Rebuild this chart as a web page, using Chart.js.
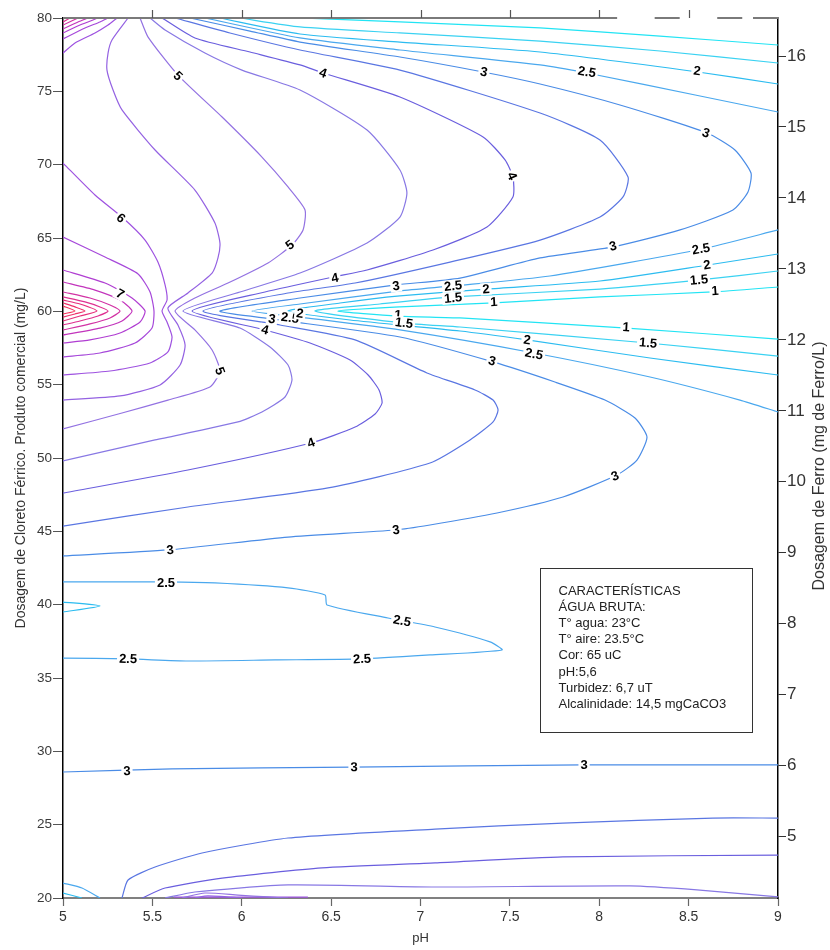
<!DOCTYPE html>
<html><head><meta charset="utf-8">
<script src="https://cdn.jsdelivr.net/npm/chart.js@4.4.1/dist/chart.umd.min.js"></script>
<style>html,body{margin:0;padding:0;background:#fff;}#wrap{width:830px;height:950px;}</style>
</head><body><div id="wrap"><canvas id="c" width="830" height="950"></canvas></div>
<script>
// ---- tick values ----
const phTicks = [5, 5.5, 6, 6.5, 7, 7.5, 8, 8.5, 9];
const doseTicks = [20, 25, 30, 35, 40, 45, 50, 55, 60, 65, 70, 75, 80];
const feTicks = [5, 6, 7, 8, 9, 10, 11, 12, 13, 14, 15, 16];
const FE_PER_PRODUCT = 0.2067; // mg Fe per mg of commercial product

// ---- contour lines: [pH, dose mg/L] ----
const c1_top = [[6.326,80],[6.885,79.73],[7.669,79.32],[8.34,78.77],[9,78.16]];
const c1_trough = [[9,61.66],[8.636,61.32],[8.004,60.98],[7.411,60.57],[6.885,60.30],[6.538,60.02],[6.874,59.68],[7.221,59.55],[8.155,58.86],[9,58.11]];
const c15_top = [[5.99,80],[6.326,79.39],[6.885,78.98],[7.669,78.43],[8.34,77.75],[9,76.93]];
const c15_trough = [[9,62.75],[8.564,62.14],[8.004,61.52],[7.182,60.98],[6.773,60.50],[6.41,60.02],[6.908,59.20],[7.221,58.93],[8.273,57.84],[9,56.95]];
const c2_top = [[5.878,80],[6.326,78.91],[6.885,78.36],[7.669,77.68],[8.552,76.32],[9,75.5]];
const c2_trough = [[9,63.91],[8.608,63.16],[8.004,62.07],[7.372,61.52],[6.885,61.05],[6.55,60.57],[6.259,60.02],[6.606,59.41],[7.221,58.66],[7.596,58.05],[8.284,56.82],[9,55.66]];
const c2_wedge = [[5,40.18],[5.207,39.91],[5,39.50]];
const c2_corner = [[5,20.34],[5.106,20]];
const c25_top = [[5.794,80],[6.326,78.64],[6.885,77.82],[7.669,76.8],[7.931,76.25],[8.564,74.68],[9,73.59]];
const c25_trough = [[9,65.55],[8.575,64.25],[7.724,62.41],[7.182,61.73],[6.885,61.39],[6.326,60.50],[6.057,60.02],[6.326,59.61],[6.885,58.73],[7.635,57.16],[8.284,55.52],[8.787,53.95],[9,53.14]];
const c25_loop = [[5,41.55],[5.582,41.55],[5.85,41.48],[6.259,41.14],[6.466,40.66],[6.477,39.98],[6.818,39.09],[7.081,38.48],[7.389,37.46],[7.456,36.91],[7.053,36.57],[6.673,36.30],[6.186,36.23],[5.699,36.16],[5.364,36.30],[5,36.36]];
const c25_corner = [[5,21.02],[5.106,20.68],[5.207,20]];
const c3_main = [[5.711,80],[6.046,79.11],[6.326,78.36],[6.885,77.34],[7.35,76.32],[7.669,75.5],[8.116,74.07],[8.603,72.16],[8.759,71.0],[8.849,69.43],[8.832,68.14],[8.748,66.91],[8.452,65.55],[8.077,64.39],[7.669,63.64],[7.221,62.27],[6.863,61.80],[6.326,60.91],[5.878,60.02],[6.169,59.48],[6.885,58.25],[7.406,56.55],[7.752,55.18],[8.032,53.95],[8.2,52.73],[8.267,51.43],[8.211,49.86],[8.099,48.84],[7.797,47.34],[7.428,46.25],[7.053,45.43],[6.857,45.09],[6.259,44.61],[5.587,43.73],[5,43.32]];
const c3_low = [[5,28.59],[5.61,28.80],[6.617,28.93],[7.909,29.07],[9,29.07]];
const c35_main = [[5.627,80],[5.934,78.98],[6.326,77.82],[6.885,76.45],[7.669,73.52],[8.004,71.68],[8.161,69.16],[8.133,67.80],[8.004,66.43],[7.669,64.86],[7.165,63.36],[6.634,61.93],[6.259,61.25],[5.783,60.02],[6.214,59.07],[6.634,58.05],[7.036,55.80],[7.305,54.64],[7.406,53.95],[7.434,53.27],[7.406,52.46],[7.277,51.23],[7.053,49.66],[6.483,47.96],[5.699,46.66],[5,45.36]];
const c35_low = [[5.33,20],[5.364,21.23],[5.515,22.11],[5.778,23.07],[6.259,24.09],[7.081,24.70],[7.797,25.11],[8.636,25.45],[9,25.45]];
const c4_main = [[5.554,80],[5.738,78.64],[6.046,77.68],[6.326,76.80],[6.455,76.25],[6.885,74.61],[7.35,71.89],[7.473,70.32],[7.517,69.16],[7.517,67.80],[7.372,65.75],[7.07,64.18],[6.701,62.82],[6.51,62.34],[6.13,61.32],[5.722,60.02],[6.13,58.73],[6.382,57.84],[6.606,56.68],[6.707,55.66],[6.768,54.64],[6.785,53.75],[6.746,53.00],[6.634,52.11],[6.387,51.02],[5.699,49.18],[5,47.61]];
const c4_low = [[5.442,20],[5.571,20.68],[5.89,21.36],[6.449,22.05],[7.081,22.39],[7.797,22.80],[9,22.93]];
const c45_main = [[5.487,80],[5.571,79.18],[5.794,77.61],[6.001,76.45],[6.326,75.09],[6.701,72.36],[6.885,69.64],[6.924,68.07],[6.885,66.43],[6.701,64.66],[6.326,62.61],[5.99,61.32],[5.671,60.02],[5.99,58.86],[6.158,57.57],[6.259,56.34],[6.281,55.32],[6.242,54.16],[6.113,53.14],[5.979,52.46],[5.515,51.23],[5,49.80]];
const c45_low = [[5.571,20],[5.738,20.41],[6.259,20.89],[7.081,20.75],[8.172,20.82],[8.547,20.55],[9,20.07]];
const c5_main = [[5.431,80],[5.476,78.70],[5.643,76.11],[5.89,73.25],[6.113,70.52],[6.259,68.48],[6.354,66.91],[6.343,65.55],[6.281,64.52],[6.147,63.30],[5.923,61.93],[5.738,60.91],[5.627,60.02],[5.738,58.73],[5.834,57.36],[5.878,55.93],[5.822,54.84],[5.587,53.95],[5.33,53.07],[5,51.98]];
const c5_low = [[5.666,20],[5.794,20.34],[5.979,20.20],[6.147,20.07],[6.259,20]];
const c55_main = [[5.364,80],[5.274,78.50],[5.252,77.61],[5.246,76.45],[5.28,75.09],[5.33,73.73],[5.515,71.0],[5.738,68.27],[5.85,66.02],[5.878,64.66],[5.867,63.64],[5.834,62.61],[5.699,61.25],[5.587,60.23],[5.643,59.07],[5.683,57.70],[5.655,56.34],[5.543,54.98],[5.319,54.23],[5,53.95]];
const c55_low = [[5.738,20],[5.811,20.14],[6.001,20]];
const c6_main = [[5,70.11],[5.179,67.93],[5.336,66.36],[5.459,64.86],[5.531,63.36],[5.571,61.80],[5.582,60.77],[5.554,60.02],[5.582,59.27],[5.61,58.25],[5.587,57.23],[5.487,56.48],[5.263,55.93],[5,55.66]];
const c6_corner = [[5,77.61],[5.067,78.30],[5.179,78.98],[5.252,79.52],[5.302,80]];
const c6_low = [[5.62,20.06],[6.37,20.06]];
const c65_peak = [[5,65.07],[5.235,63.70],[5.42,62.55],[5.487,61.32],[5.509,60.02],[5.498,58.86],[5.403,57.84],[5.207,57.16],[5,56.89]];
const c65_corner = [[5,78.57],[5.123,79.32],[5.207,79.73],[5.252,80]];
const c7_peak = [[5,62.82],[5.235,61.93],[5.386,60.91],[5.459,60.02],[5.431,59.27],[5.319,58.52],[5.151,58.05],[5,57.84]];
const c7_corner = [[5,78.98],[5.095,79.52],[5.196,80]];
const c75_peak = [[5,62.0],[5.179,61.45],[5.319,60.77],[5.386,60.02],[5.33,59.34],[5.207,58.86],[5,58.39]];
const c75_corner = [[5,79.25],[5.084,79.73],[5.14,80]];
const c8_peak = [[5,61.32],[5.151,60.91],[5.263,60.43],[5.319,60.02],[5.263,59.55],[5.151,59.14],[5,58.73]];
const c8_corner = [[5,79.52],[5.084,80]];
const c85_peak = [[5,60.98],[5.123,60.64],[5.207,60.30],[5.252,60.02],[5.196,59.68],[5.095,59.34],[5,59.07]];
const c85_corner = [[5,79.73],[5.039,80]];
const c9_peak = [[5,60.77],[5.095,60.50],[5.19,60.02],[5.095,59.68],[5,59.34]];
const c95_peak = [[5,60.57],[5.067,60.30],[5.123,60.02],[5.067,59.82],[5,59.61]];
const c10_peak = [[5,60.36],[5.067,60.02],[5,59.82]];

// level of each line
const contours = [
  [1, c1_top], [1, c1_trough],
  [1.5, c15_top], [1.5, c15_trough],
  [2, c2_top], [2, c2_trough], [2, c2_wedge], [2, c2_corner],
  [2.5, c25_top], [2.5, c25_trough], [2.5, c25_loop], [2.5, c25_corner],
  [3, c3_main], [3, c3_low],
  [3.5, c35_main], [3.5, c35_low],
  [4, c4_main], [4, c4_low],
  [4.5, c45_main], [4.5, c45_low],
  [5, c5_main], [5, c5_low],
  [5.5, c55_main], [5.5, c55_low],
  [6, c6_main], [6, c6_corner], [6, c6_low],
  [6.5, c65_peak], [6.5, c65_corner],
  [7, c7_peak], [7, c7_corner],
  [7.5, c75_peak], [7.5, c75_corner],
  [8, c8_peak], [8, c8_corner],
  [8.5, c85_peak], [8.5, c85_corner],
  [9, c9_peak], [9.5, c95_peak], [10, c10_peak]
];

// contour labels: [text, pH, dose]
const contourLabels = [
  ['3',7.355,76.32],['2.5',7.931,76.32],['2',8.547,76.39],['3',8.597,72.16],['4',7.512,69.23],
  ['4',6.455,76.25],['5',5.643,76.05],['6',5.324,66.36],['5',6.27,64.52],['4',6.522,62.27],
  ['3',8.077,64.45],['2.5',8.569,64.25],['2',8.603,63.16],['1.5',8.558,62.14],['1',8.648,61.39],
  ['3',6.863,61.73],['2.5',7.182,61.73],['2',7.366,61.52],['1.5',7.182,60.91],['1',7.411,60.64],
  ['1',6.874,59.75],['1.5',6.908,59.20],['1',8.15,58.93],['1.5',8.273,57.84],['2',7.596,58.05],
  ['2.5',7.635,57.09],['3',7.4,56.61],['3',6.169,59.48],['2.5',6.27,59.55],['2',6.326,59.85],
  ['4',6.13,58.73],['5',5.878,55.93],['4',6.387,51.02],['3',8.088,48.77],['3',6.863,45.09],
  ['3',5.599,43.73],['2.5',5.576,41.48],['2.5',6.897,38.89],['2.5',5.364,36.30],['2.5',6.673,36.30],
  ['3',5.358,28.66],['3',6.628,28.93],['3',7.915,29.07],['7',5.319,61.18]
];

const boxLines = ['CARACTERÍSTICAS','ÁGUA BRUTA:','T° agua: 23°C','T° aire: 23.5°C','Cor: 65 uC','pH:5,6','Turbidez: 6,7 uT','Alcalinidade: 14,5 mgCaCO3'];
const rightTitle = 'Dosagem de Ferro (mg de Ferro/L)';

// ---- styles ----
const levelColors = {
  '1':'#22e4f4','1.5':'#3ad2f2','2':'#2cbcf0','2.5':'#4aa8ee','3':'#4a8ce6','3.5':'#5a76e2',
  '4':'#6a5ede','4.5':'#8878e4','5':'#9372e2','5.5':'#9462e2','6':'#9e52e0','6.5':'#a648da',
  '7':'#b03ed2','7.5':'#c234bc','8':'#d232a4','8.5':'#de3090','9':'#e6307c','9.5':'#ee306a','10':'#f4305a'
};
const FONT = "'Liberation Sans', Arial, sans-serif";
Chart.defaults.font.family = FONT;

const datasets = contours.map(([lvl, pts]) => ({
  label: 'nivel ' + lvl,
  data: pts.map(([x, y]) => ({x, y})),
  showLine: true,
  borderColor: levelColors[String(lvl)],
  borderWidth: 1.2,
  pointRadius: 0,
  pointHoverRadius: 0,
  tension: 0.2,
  fill: false
}));

const labelPlugin = {
  id: 'contourLabels',
  afterDatasetsDraw(chart) {
    const {ctx, scales: {x, y}} = chart;
    const segs = [];
    chart.data.datasets.forEach((ds, i) => {
      const pts = chart.getDatasetMeta(i).data;
      for (let k = 0; k < pts.length - 1; k++) segs.push([pts[k].x, pts[k].y, pts[k+1].x, pts[k+1].y]);
    });
    ctx.save();
    ctx.font = 'bold 13px ' + FONT;
    ctx.textAlign = 'center'; ctx.textBaseline = 'middle';
    contourLabels.forEach(([txt, ph, dose]) => {
      const px = x.getPixelForValue(ph), py = y.getPixelForValue(dose);
      let best = Infinity, ang = 0;
      for (const [x1, y1, x2, y2] of segs) {
        const dx = x2 - x1, dy = y2 - y1, L = dx*dx + dy*dy;
        if (!L) continue;
        let t = ((px - x1)*dx + (py - y1)*dy) / L;
        t = Math.max(0, Math.min(1, t));
        const qx = x1 + t*dx - px, qy = y1 + t*dy - py, d = qx*qx + qy*qy;
        if (d < best) { best = d; ang = Math.atan2(dy, dx); }
      }
      if (ang > Math.PI/2) ang -= Math.PI;
      if (ang < -Math.PI/2) ang += Math.PI;
      ctx.save();
      ctx.translate(px, py); ctx.rotate(ang);
      const w = ctx.measureText(txt).width;
      ctx.fillStyle = '#fff'; ctx.fillRect(-w/2 - 2, -6, w + 4, 12);
      ctx.fillStyle = '#000'; ctx.fillText(txt, 0, 0.5);
      ctx.restore();
    });
    ctx.restore();
  }
};

const framePlugin = {
  id: 'frameBox',
  afterDraw(chart) {
    const {ctx, chartArea: {top, bottom}, scales: {x, y}} = chart;
    ctx.save();
    // top frame (solid then dashed part)
    ctx.strokeStyle = '#7a7a7a'; ctx.lineWidth = 2;
    [[5, 8.1], [8.31, 8.45], [8.66, 8.8], [8.86, 9]].forEach(([a, b]) => {
      ctx.beginPath(); ctx.moveTo(x.getPixelForValue(a), top); ctx.lineTo(x.getPixelForValue(b), top); ctx.stroke();
    });
    ctx.lineWidth = 1.2; ctx.strokeStyle = '#555';
    phTicks.forEach(v => {
      if (v > 5 && v < 9) {
        const px = Math.round(x.getPixelForValue(v)) + 0.5;
        ctx.beginPath(); ctx.moveTo(px, top - 8); ctx.lineTo(px, top); ctx.stroke();
      }
    });
    // info box
    const bx = Math.round(x.getPixelForValue(7.67)) + 0.5, by = Math.round(y.getPixelForValue(42.5)) + 0.5;
    const bw = 212, bh = 164;
    ctx.fillStyle = '#fff'; ctx.fillRect(bx, by, bw, bh);
    ctx.strokeStyle = '#333'; ctx.lineWidth = 1; ctx.strokeRect(bx, by, bw, bh);
    ctx.fillStyle = '#222'; ctx.font = '13px ' + FONT; ctx.textBaseline = 'middle'; ctx.textAlign = 'left';
    boxLines.forEach((t, i) => ctx.fillText(t, bx + 18, by + 23 + i * 16.1));
    // right axis title, reading bottom-to-top
    ctx.save();
    ctx.translate(820, (top + bottom) / 2 + 8);
    ctx.rotate(-Math.PI / 2);
    ctx.font = '16px ' + FONT; ctx.fillStyle = '#333'; ctx.textAlign = 'center'; ctx.textBaseline = 'middle';
    ctx.fillText(rightTitle, 0, 0);
    ctx.restore();
    ctx.restore();
  }
};

new Chart(document.getElementById('c'), {
  type: 'scatter',
  data: { datasets },
  options: {
    responsive: false, animation: false, devicePixelRatio: 1, events: [],
    layout: { padding: { top: 18, left: 0, right: 0, bottom: 0 } },
    plugins: { legend: { display: false }, tooltip: { enabled: false } },
    scales: {
      x: {
        type: 'linear', position: 'bottom', min: 5, max: 9,
        afterBuildTicks: s => { s.ticks = phTicks.map(v => ({value: v})); },
        afterFit: s => { s.height = 52; },
        ticks: { autoSkip: false, maxRotation: 0, font: { size: 14 }, color: '#333', padding: 3, callback: v => String(v) },
        grid: { drawOnChartArea: false, drawTicks: true, tickLength: 8, color: '#666', tickWidth: 1.2 },
        border: { display: true, color: '#808080', width: 2 },
        title: { display: true, text: 'pH', font: { size: 13 }, color: '#333', padding: { top: 0, bottom: 4 } }
      },
      y: {
        type: 'linear', position: 'left', min: 20, max: 80,
        afterBuildTicks: s => { s.ticks = doseTicks.map(v => ({value: v})); },
        afterFit: s => { s.width = 63; },
        ticks: { autoSkip: false, font: { size: 13.5 }, color: '#3a3a3a', padding: 1, callback: v => String(v) },
        grid: { drawOnChartArea: false, drawTicks: true, tickLength: 10, color: '#555' },
        border: { display: true, color: '#000', width: 1.5 },
        title: { display: true, text: 'Dosagem de Cloreto Férrico. Produto comercial (mg/L)', font: { size: 14 }, color: '#333', padding: { top: 13, bottom: 0 } }
      },
      y2: {
        type: 'linear', position: 'right', min: 20 * FE_PER_PRODUCT, max: 80 * FE_PER_PRODUCT,
        afterBuildTicks: s => { s.ticks = feTicks.map(v => ({value: v})); },
        afterFit: s => { s.width = 52; },
        ticks: { autoSkip: false, font: { size: 17 }, color: '#333', padding: 1, callback: v => String(v) },
        grid: { drawOnChartArea: false, drawTicks: true, tickLength: 8, color: '#333' },
        border: { display: true, color: '#000', width: 1.5 },
        title: { display: false }
      }
    }
  },
  plugins: [labelPlugin, framePlugin]
});
</script></body></html>
